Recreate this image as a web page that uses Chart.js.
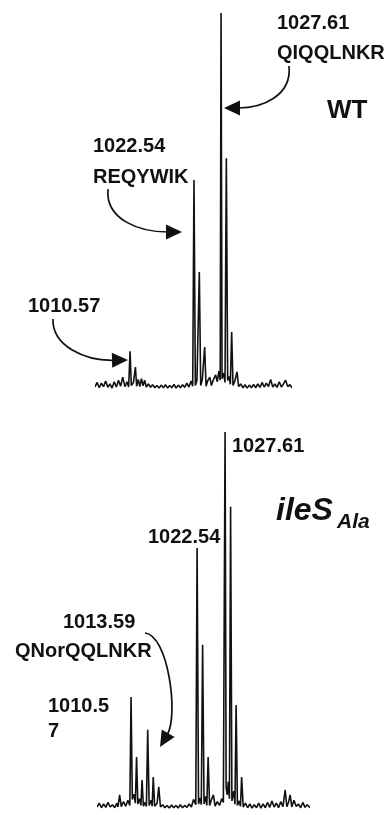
<!DOCTYPE html>
<html>
<head>
<meta charset="utf-8">
<script src="https://cdn.jsdelivr.net/npm/chart.js@4"></script>
<style>
  html, body { margin: 0; padding: 0; background: #fff; }
  #wrap { position: relative; width: 390px; height: 815px; overflow: hidden; }
  #wtChart { position: absolute; left: 0; top: 0; }
  #ileChart { position: absolute; left: 0; top: 410px; }
</style>
</head>
<body>
<div id="wrap">
  <canvas id="wtChart" width="390" height="400"></canvas>
  <canvas id="ileChart" width="390" height="405"></canvas>
</div>
<script>
// espectro WT (m/z, intensidad relativa %)
const wtMz = [
  1004.0, 1004.4, 1004.8, 1005.2, 1005.6, 1006.0, 1006.4, 1006.8, 1007.2, 1007.6,
  1008.0, 1008.4, 1008.8, 1009.2, 1009.6, 1010.0, 1010.3, 1010.57, 1010.8, 1011.2,
  1011.57, 1011.8, 1012.1, 1012.4, 1012.7, 1013.0, 1013.3, 1013.6, 1014.0, 1014.4,
  1014.8, 1015.2, 1015.6, 1016.0, 1016.4, 1016.8, 1017.2, 1017.6, 1018.0, 1018.4,
  1018.8, 1019.2, 1019.6, 1020.0, 1020.4, 1020.8, 1021.2, 1021.6, 1022.0, 1022.3,
  1022.54, 1022.8, 1023.1, 1023.54, 1023.8, 1024.1, 1024.54, 1024.8, 1025.1, 1025.5,
  1025.8, 1026.2, 1026.6, 1026.9, 1027.2, 1027.45, 1027.61, 1027.8, 1028.1, 1028.35,
  1028.6, 1028.85, 1029.1, 1029.35, 1029.6, 1029.85, 1030.2, 1030.6, 1030.9, 1031.3,
  1031.7, 1032.1, 1032.5, 1032.9, 1033.3, 1033.7, 1034.1, 1034.5, 1034.9, 1035.3,
  1035.7, 1036.1, 1036.5, 1036.9, 1037.3, 1037.7, 1038.1, 1038.5, 1038.9, 1039.3,
  1039.7, 1040.1, 1040.5, 1040.9
];
const wtInt = [
  0.8, 2.0, 0.6, 1.8, 0.9, 2.4, 0.7, 1.6, 0.5, 2.2,
  0.8, 2.6, 1.0, 3.4, 0.9, 2.2, 0.8, 10.3, 1.2, 2.0,
  6.1, 1.0, 2.8, 0.9, 3.0, 1.1, 2.6, 0.8, 1.6, 0.7,
  1.4, 0.6, 1.2, 0.5, 1.3, 0.6, 1.4, 0.5, 1.2, 0.6,
  1.5, 0.5, 1.3, 0.6, 1.4, 0.7, 1.8, 0.8, 2.4, 1.0,
  55.7, 1.2, 2.6, 31.3, 1.2, 2.8, 11.4, 1.0, 2.4, 3.4,
  1.2, 2.8, 4.0, 2.2, 5.0, 2.6, 100, 3.0, 4.5, 2.0,
  61.5, 2.5, 3.6, 1.5, 15.4, 1.2, 2.4, 4.8, 0.9, 1.6,
  0.6, 1.4, 0.5, 1.3, 0.6, 1.5, 0.6, 1.6, 0.7, 2.0,
  0.8, 1.8, 0.9, 2.8, 0.8, 1.6, 0.7, 2.2, 0.8, 1.6,
  2.6, 0.9, 1.4, 0.6
];

// espectro ileS_Ala
const ileMz = [
  1004.4, 1004.8, 1005.2, 1005.6, 1006.0, 1006.4, 1006.8, 1007.2, 1007.6, 1008.0,
  1008.2, 1008.5, 1008.8, 1009.2, 1009.6, 1010.0, 1010.35, 1010.57, 1010.8, 1011.1,
  1011.35, 1011.57, 1011.8, 1012.1, 1012.35, 1012.57, 1012.8, 1013.1, 1013.35, 1013.59,
  1013.85, 1014.2, 1014.4, 1014.59, 1014.85, 1015.3, 1015.59, 1015.9, 1016.3, 1016.7,
  1017.1, 1017.5, 1017.9, 1018.3, 1018.7, 1019.1, 1019.5, 1019.9, 1020.3, 1020.7,
  1021.1, 1021.5, 1021.9, 1022.3, 1022.54, 1022.8, 1023.1, 1023.3, 1023.54, 1023.8,
  1024.1, 1024.3, 1024.54, 1024.8, 1025.1, 1025.5, 1025.8, 1026.2, 1026.6, 1027.0,
  1027.3, 1027.61, 1027.8, 1028.0, 1028.2, 1028.4, 1028.61, 1028.85, 1029.2, 1029.4,
  1029.61, 1029.85, 1030.2, 1030.4, 1030.61, 1030.9, 1031.3, 1031.7, 1032.1, 1032.5,
  1032.9, 1033.3, 1033.7, 1034.1, 1034.5, 1034.9, 1035.3, 1035.7, 1036.1, 1036.5,
  1036.9, 1037.3, 1037.7, 1038.1, 1038.5, 1038.8, 1039.1, 1039.4, 1039.7, 1040.1,
  1040.5, 1040.9, 1041.3, 1041.7, 1042.1, 1042.5, 1043.0
];
const ileInt = [
  0.8, 1.8, 0.6, 1.6, 0.7, 2.0, 0.8, 1.4, 0.6, 1.8,
  0.8, 4.0, 0.9, 2.2, 1.0, 2.6, 1.2, 29.9, 2.8, 4.2,
  1.8, 14.0, 1.6, 3.0, 1.2, 7.9, 1.0, 2.0, 0.9, 21.2,
  1.2, 2.6, 1.0, 8.7, 1.0, 1.8, 6.1, 0.8, 1.4, 0.6,
  1.2, 0.5, 1.3, 0.6, 1.2, 0.5, 1.4, 0.6, 1.2, 0.7,
  1.6, 0.8, 2.8, 1.4, 69.3, 1.6, 3.2, 1.4, 43.7, 1.6,
  3.6, 1.2, 14.0, 1.2, 2.6, 4.0, 1.0, 2.2, 1.2, 3.0,
  2.0, 100, 6.0, 4.0, 7.5, 3.0, 80.2, 2.4, 5.0, 1.5,
  27.8, 1.2, 2.4, 1.0, 8.7, 0.8, 1.8, 0.6, 1.6, 0.5,
  1.4, 0.6, 1.8, 0.5, 1.6, 0.6, 2.0, 0.7, 2.4, 0.8,
  1.8, 0.6, 2.2, 0.9, 5.3, 0.9, 2.0, 4.0, 0.8, 2.6,
  0.9, 1.6, 0.6, 2.0, 0.7, 1.4, 0.6
];

// etiquetas de los picos
const wtLabels = ['1027.61', 'QIQQLNKR', 'WT', '1022.54', 'REQYWIK', '1010.57'];
const ileLabels = ['1027.61', 'ileS', 'Ala', '1022.54', '1013.59', 'QNorQQLNKR', '1010.5', '7'];

const INK = '#111';
const BOLD = 'bold 20px "Liberation Sans", Arial, sans-serif';

// plugin para textos y flechas curvas
const notesPlugin = {
  id: 'notes',
  afterDraw(chart, args, opts) {
    const ctx = chart.ctx;
    ctx.save();
    ctx.fillStyle = INK;
    ctx.strokeStyle = INK;
    ctx.textBaseline = 'alphabetic';
    ctx.textAlign = 'left';
    (opts.texts || []).forEach(t => {
      ctx.font = t.font || BOLD;
      ctx.fillText(t.text, t.x, t.y);
    });
    (opts.arrows || []).forEach(a => {
      const [p0, c1, c2, p1] = a;
      // direccion de la punta
      const dx = p1[0] - c2[0], dy = p1[1] - c2[1];
      const len = Math.hypot(dx, dy);
      const ux = dx / len, uy = dy / len;
      const head = 16, half = 7.5;
      const bx = p1[0] - ux * head, by = p1[1] - uy * head;
      ctx.lineWidth = 1.7;
      ctx.beginPath();
      ctx.moveTo(p0[0], p0[1]);
      ctx.bezierCurveTo(c1[0], c1[1], c2[0], c2[1], bx + ux * 2, by + uy * 2);
      ctx.stroke();
      ctx.beginPath();
      ctx.moveTo(p1[0], p1[1]);
      ctx.lineTo(bx - uy * half, by + ux * half);
      ctx.lineTo(bx + uy * half, by - ux * half);
      ctx.closePath();
      ctx.fill();
    });
    ctx.restore();
  }
};

function makeSpectrum(id, mz, ints, range, padding, notes) {
  const ctx = document.getElementById(id).getContext('2d');
  return new Chart(ctx, {
    type: 'line',
    data: {
      datasets: [{
        data: mz.map((x, i) => ({ x: x, y: ints[i] })),
        borderColor: INK,
        borderWidth: 1.6,
        borderJoinStyle: 'bevel',
        pointRadius: 0,
        tension: 0,
        fill: false
      }]
    },
    options: {
      responsive: false,
      animation: false,
      devicePixelRatio: 1,
      layout: { padding: padding },
      scales: {
        x: { type: 'linear', display: false, min: range[0], max: range[1] },
        y: { display: false, min: 0, max: 100 }
      },
      plugins: {
        legend: { display: false },
        tooltip: { enabled: false },
        notes: notes
      }
    },
    plugins: [notesPlugin]
  });
}

// panel superior: WT
makeSpectrum('wtChart', wtMz, wtInt, [1004.0, 1040.9],
  { left: 95, right: 98, top: 13, bottom: 10 },
  {
    texts: [
      { text: wtLabels[0], x: 277, y: 29 },
      { text: wtLabels[1], x: 277, y: 59 },
      { text: wtLabels[2], x: 327, y: 118, font: 'bold 26px "Liberation Sans", Arial, sans-serif' },
      { text: wtLabels[3], x: 93, y: 152 },
      { text: wtLabels[4], x: 93, y: 183 },
      { text: wtLabels[5], x: 28, y: 312 }
    ],
    arrows: [
      [[289, 66], [292, 96], [262, 108], [224, 108]],
      [[108, 189], [105, 220], [140, 232], [182, 232]],
      [[53, 319], [52, 346], [85, 361], [128, 360]]
    ]
  });

// panel inferior: ileS_Ala
makeSpectrum('ileChart', ileMz, ileInt, [1004.4, 1043.0],
  { left: 97, right: 80, top: 22, bottom: 5 },
  {
    texts: [
      { text: ileLabels[0], x: 232, y: 42 },
      { text: ileLabels[1], x: 276, y: 110, font: 'italic bold 32px "Liberation Sans", Arial, sans-serif' },
      { text: ileLabels[2], x: 337, y: 118, font: 'italic bold 21px "Liberation Sans", Arial, sans-serif' },
      { text: ileLabels[3], x: 148, y: 133 },
      { text: ileLabels[4], x: 63, y: 218 },
      { text: ileLabels[5], x: 15, y: 247 },
      { text: ileLabels[6], x: 48, y: 302 },
      { text: ileLabels[7], x: 48, y: 327 }
    ],
    arrows: [
      [[145, 223], [168, 225], [179, 305], [160, 337]]
    ]
  });
</script>
</body>
</html>
